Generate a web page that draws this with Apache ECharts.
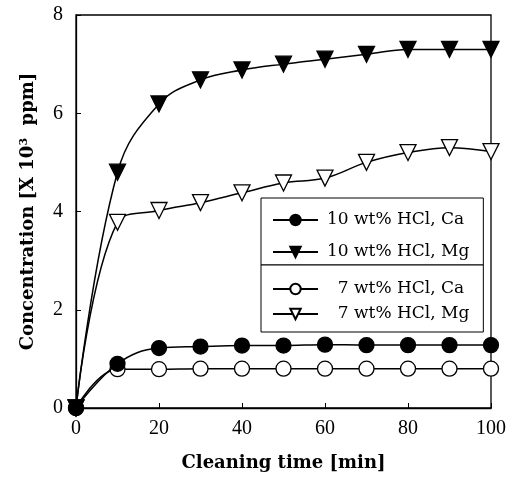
<!DOCTYPE html>
<html>
<head>
<meta charset="utf-8">
<script src="https://cdn.jsdelivr.net/npm/echarts@6/dist/echarts.min.js"></script>
<style>
  html, body { margin: 0; padding: 0; background: #fff; }
  #main { width: 515px; height: 477px; }
</style>
</head>
<body>
<div id="main"></div>
<script>
// cleaning time in minutes
var times = [0, 10, 20, 30, 40, 50, 60, 70, 80, 90, 100];
// concentration, X 10^3 ppm
var ca10 = [0, 0.9, 1.22, 1.25, 1.27, 1.27, 1.29, 1.28, 1.28, 1.28, 1.28];
var mg10 = [0, 4.8, 6.19, 6.68, 6.88, 7.0, 7.1, 7.2, 7.3, 7.3, 7.3];
var ca7 = [0, 0.79, 0.79, 0.8, 0.8, 0.8, 0.8, 0.8, 0.8, 0.8, 0.8];
var mg7 = [0, 3.78, 4.02, 4.18, 4.38, 4.58, 4.68, 5.0, 5.2, 5.3, 5.22];
var yTicks = [0, 2, 4, 6, 8];
var xTicks = [0, 20, 40, 60, 80, 100];

var serif = '"Liberation Serif", "DejaVu Serif", serif';
var wideSerif = '"DejaVu Serif", "Liberation Serif", serif';

function pairs(ys) {
    var out = [];
    for (var i = 0; i < times.length; i++) {
        out.push([times[i], ys[i]]);
    }
    return out;
}

function makeSeries(name, ys, symbol, filled, size) {
    return {
        name: name,
        type: 'line',
        data: pairs(ys),
        smooth: 0.4,
        symbol: symbol,
        symbolRotate: symbol == 'triangle' ? 180 : 0,
        symbolSize: size,
        showAllSymbol: true,
        lineStyle: { color: '#000', width: 1.5 },
        itemStyle: { color: filled ? '#000' : '#fff', borderColor: '#000', borderWidth: 1.3, opacity: 1 },
        emphasis: { disabled: true },
        z: filled ? 3 : 2
    };
}

var myChart = echarts.init(document.getElementById('main'), null, { renderer: 'canvas' });

var legendBase = {
    orient: 'vertical',
    left: 261,
    itemWidth: 45,
    itemHeight: 13,
    backgroundColor: '#fff',
    borderColor: '#000',
    borderWidth: 1,
    textStyle: { fontFamily: wideSerif, fontSize: 17, lineHeight: 20, color: '#000', padding: [0, 0, 0, 4] },
    selectedMode: false
};

var option = {
    animation: false,
    backgroundColor: '#fff',
    grid: {
        left: 76, right: 24, top: 15, bottom: 69,
        show: true, borderColor: '#000', borderWidth: 1.3
    },
    legend: [
        Object.assign({}, legendBase, {
            top: 198,
            itemGap: 12,
            padding: [12, 14, 3, 11],
            data: ['10 wt% HCl, Ca', '10 wt% HCl, Mg']
        }),
        Object.assign({}, legendBase, {
            top: 265,
            itemGap: 5,
            padding: [14, 14, 8, 11],
            data: ['  7 wt% HCl, Ca', '  7 wt% HCl, Mg']
        })
    ],
    xAxis: {
        type: 'value',
        min: 0, max: 100, interval: 20,
        name: 'Cleaning time [min]',
        nameLocation: 'middle',
        nameGap: 46,
        nameTextStyle: { fontFamily: wideSerif, fontSize: 18, fontWeight: 'bold', color: '#000' },
        axisLine: { lineStyle: { color: '#000', width: 1.3 } },
        axisTick: { inside: true, length: 5, lineStyle: { color: '#000' } },
        axisLabel: {
            margin: 11, fontFamily: serif, fontSize: 20, color: '#000',
            formatter: function (v) { return xTicks.indexOf(v) >= 0 ? String(v) : ''; }
        },
        splitLine: { show: false }
    },
    yAxis: {
        type: 'value',
        min: 0, max: 8, interval: 2,
        name: 'Concentration [X 10{sup|3}  ppm]',
        nameLocation: 'middle',
        nameGap: 38,
        nameTextStyle: {
            fontFamily: wideSerif, fontSize: 18, fontWeight: 'bold', color: '#000',
            rich: { sup: { fontFamily: wideSerif, fontSize: 11, fontWeight: 'bold', verticalAlign: 'top', padding: [0, 0, 8, 0] } }
        },
        axisLine: { lineStyle: { color: '#000', width: 1.3 } },
        axisTick: { inside: true, length: 5, lineStyle: { color: '#000' } },
        axisLabel: {
            margin: 13, fontFamily: serif, fontSize: 20, color: '#000',
            formatter: function (v) { return yTicks.indexOf(v) >= 0 ? String(v) : ''; }
        },
        splitLine: { show: false }
    },
    series: [
        makeSeries('10 wt% HCl, Ca', ca10, 'circle', true, 15),
        makeSeries('10 wt% HCl, Mg', mg10, 'triangle', true, 16),
        makeSeries('  7 wt% HCl, Ca', ca7, 'circle', false, 15),
        makeSeries('  7 wt% HCl, Mg', mg7, 'triangle', false, 16)
    ]
};

myChart.setOption(option);
</script>
</body>
</html>
